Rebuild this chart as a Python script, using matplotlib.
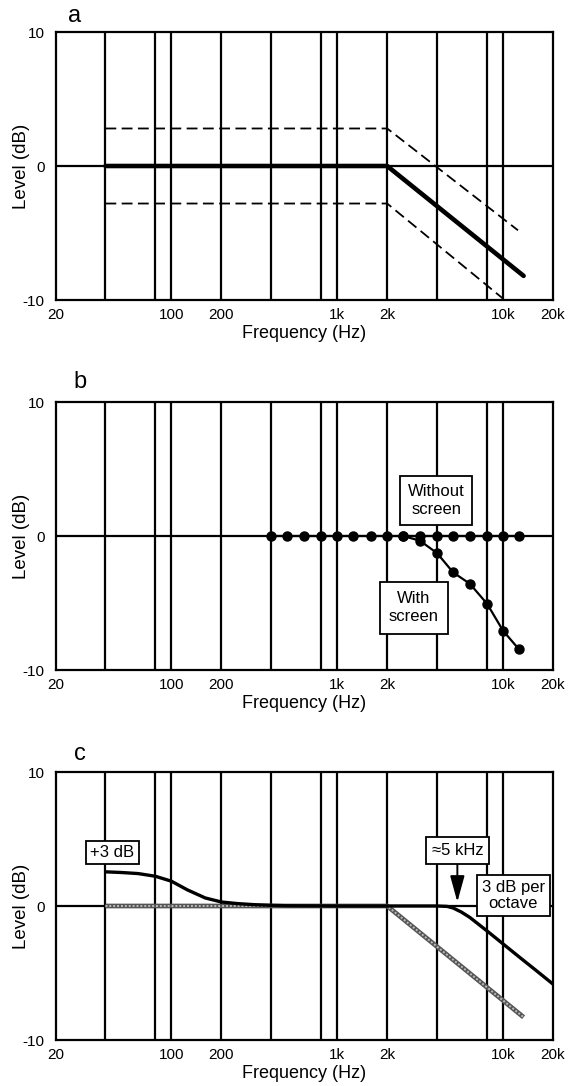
import numpy as np
import matplotlib
matplotlib.use("Agg")
import matplotlib.pyplot as plt

plt.rcParams['font.family'] = ['Liberation Sans', 'DejaVu Sans']

# ---------------- data ----------------
xtick_vals = [20, 100, 200, 1000, 2000, 10000, 20000]
xtick_labels = ['20', '100', '200', '1k', '2k', '10k', '20k']
ytick_vals = [-10, 0, 10]
grid_freqs = [40, 80, 100, 200, 400, 800, 1000, 2000, 4000, 8000, 10000]

# panel a
a_main_f = [40, 2000, 13300]
a_main_db = [0.0, 0.0, -8.2]
a_upper_f = [40, 2000, 12300]
a_upper_db = [2.8, 2.8, -4.8]
a_lower_f = [40, 2000, 10000]
a_lower_db = [-2.8, -2.8, -9.9]

# panel b
b_without_f = [400, 500, 630, 800, 1000, 1250, 1600, 2000, 2500, 3150,
               4000, 5000, 6300, 8000, 10000, 12500]
b_without_db = [0.0] * 16
b_with_f = [2500, 3150, 4000, 5000, 6300, 8000, 10000, 12500]
b_with_db = [0.0, -0.35, -1.28, -2.72, -3.56, -5.05, -7.07, -8.47]

# panel c
c_mic_f = [40, 50, 63, 80, 100, 125, 160, 200, 250, 315, 400, 500, 1000,
           2000, 4000, 4600, 5000, 5600, 6300, 8000, 10000, 12500, 16000, 20000]
c_mic_db = [2.55, 2.5, 2.42, 2.22, 1.85, 1.2, 0.6, 0.3, 0.18, 0.1, 0.05, 0.02,
            0.0, 0.0, 0.0, -0.03, -0.15, -0.45, -0.85, -1.86, -2.83, -3.8,
            -4.86, -5.83]
c_grey_f = [40, 2000, 13300]
c_grey_db = [0.0, 0.0, -8.3]

# ---------------- figure ----------------
W, H = 568, 1086
fig = plt.figure(figsize=(W / 100, H / 100), dpi=100)

left_px = 55.5
left = left_px / W
width = 497.5 / W
ah = 268 / H
bottoms_px = [300, 670, 1040]
letters = ['a', 'b', 'c']
letter_pos = [(75, 21.5), (80, 388), (80, 760)]

GRID_LW = 1.6


def box(pad):
    return dict(boxstyle='square,pad=%s' % pad, fc='white', ec='black', lw=1.3)


def setup(ax):
    ax.set_xscale('log')
    ax.set_xlim(20, 20000)
    ax.set_ylim(-10, 10)
    ax.set_xticks(xtick_vals)
    ax.set_xticklabels(xtick_labels)
    ax.xaxis.set_minor_locator(matplotlib.ticker.NullLocator())
    ax.set_yticks(ytick_vals)
    ax.set_yticklabels([str(v) for v in ytick_vals])
    ax.tick_params(axis='both', length=0, labelsize=11)
    ax.tick_params(axis='x', pad=6)
    ax.tick_params(axis='y', pad=8)
    for s in ax.spines.values():
        s.set_linewidth(1.6)
    for f in grid_freqs:
        ax.axvline(f, color='black', lw=GRID_LW, zorder=1)
    ax.axhline(0, color='black', lw=GRID_LW, zorder=1)
    ax.set_xlabel('Frequency (Hz)', fontsize=13, labelpad=2)
    ax.set_ylabel('Level (dB)', fontsize=13.5, va='center')
    ax.yaxis.set_label_coords((21.5 - left_px) / 497.5, 0.5)


axes = []
for i, bpx in enumerate(bottoms_px):
    ax = fig.add_axes([left, 1 - bpx / H, width, ah])
    setup(ax)
    axes.append(ax)
    lx, ly = letter_pos[i]
    fig.text(lx / W, 1 - ly / H, letters[i], fontsize=17, ha='center',
             va='baseline')

# panel a
ax = axes[0]
ax.plot(a_main_f, a_main_db, color='black', lw=3.3, zorder=3,
        solid_capstyle='round')
ax.plot(a_upper_f, a_upper_db, color='black', lw=1.3, dashes=(6, 3), zorder=3)
ax.plot(a_lower_f, a_lower_db, color='black', lw=1.3, dashes=(6, 3), zorder=3)

# panel b
ax = axes[1]
ax.plot(b_without_f, b_without_db, color='black', lw=1.6, marker='o',
        markersize=6.5, zorder=3)
ax.plot(b_with_f, b_with_db, color='black', lw=1.6, marker='o',
        markersize=6.5, zorder=3)
ax.text(3950, 2.65, 'Without\nscreen', fontsize=12, ha='center', va='center',
        linespacing=1.3, bbox=box(0.45), zorder=5)
ax.text(2900, -5.35, 'With\nscreen', fontsize=12, ha='center', va='center',
        linespacing=1.3, bbox=box(0.55), zorder=5)

# panel c
ax = axes[2]
ax.plot(c_grey_f, c_grey_db, color='#555555', lw=3.4, zorder=2,
        solid_capstyle='butt')
ax.plot(c_grey_f, c_grey_db, color='#bbbbbb', lw=1.4, dashes=(1, 1), zorder=2)
ax.plot(c_mic_f, c_mic_db, color='black', lw=2.4, zorder=3,
        solid_capstyle='butt')
ax.text(44, 3.98, '+3 dB', fontsize=12, ha='center', va='center',
        bbox=box(0.25), zorder=5)
ax.annotate('≈5 kHz', xy=(5300, 0.3), xytext=(5300, 4.16), fontsize=12,
            ha='center', va='center', bbox=box(0.35),
            arrowprops=dict(arrowstyle='-|>,head_length=0.8,head_width=0.22',
                            color='black', lw=1.4, mutation_scale=20,
                            shrinkA=0, shrinkB=0),
            zorder=5)
ax.text(11500, 0.8, '3 dB per\noctave', fontsize=12, ha='center', va='center',
        linespacing=1.05, bbox=box(0.3), zorder=5, clip_on=False)

fig.savefig('out.png', dpi=100)
